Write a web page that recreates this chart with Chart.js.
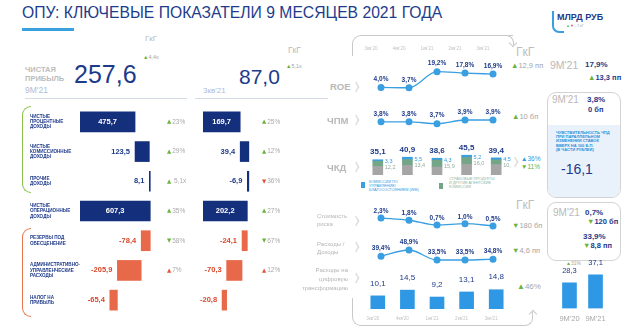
<!DOCTYPE html>
<html><head><meta charset="utf-8">
<script src="https://cdn.jsdelivr.net/npm/chart.js@4.4.1/dist/chart.umd.min.js"></script>
<style>
html,body{margin:0;padding:0;background:#fff;}
body{width:627px;height:334px;position:relative;overflow:hidden;font-family:"Liberation Sans",Arial,sans-serif;}
.a{position:absolute;white-space:nowrap;line-height:1;}
canvas{position:absolute;}
.g{color:#6cb33e}.r{color:#e5533c}
.nv{color:#1e3a8a;font-weight:bold;}
.gr{color:#b9b9b9;}
.chev{position:absolute;width:6px;height:6px;border-top:2.5px solid #dedede;border-right:2.5px solid #dedede;transform:scaleX(.6) rotate(45deg);}
.ln{position:absolute;border:0 solid #c9c9c9;}
</style></head><body>

<div class="a" style="left:22px;top:4.7px;font-size:15.7px;color:#1e3c8c">ОПУ: КЛЮЧЕВЫЕ ПОКАЗАТЕЛИ 9 МЕСЯЦЕВ 2021 ГОДА</div>
<div style="position:absolute;left:22px;top:28px;width:52px;height:2.5px;background:#3aa0e0"></div>

<!-- left header -->
<div class="a gr" style="left:145px;top:35px;font-size:8px">ГкГ</div>
<div class="a" style="left:143px;top:54.5px;font-size:5.5px;color:#a5a5a5"><span class="g">▲</span>4,4x</div>
<div class="a" style="left:25px;top:64.5px;font-size:7.5px;line-height:9px;font-weight:bold;color:#bcbcbc">ЧИСТАЯ<br>ПРИБЫЛЬ</div>
<div class="a" style="left:74px;top:61.5px;font-size:25px;color:#1e3a8a">257,6</div>
<div class="a" style="left:25px;top:86px;font-size:8.5px;color:#aebbd6">9M'21</div>
<div style="position:absolute;left:25px;top:98px;width:162px;height:1px;background:#d5dbe7"></div>
<div class="a gr" style="left:288px;top:46px;font-size:8.5px">ГкГ</div>
<div class="a" style="left:239px;top:65.7px;font-size:21px;color:#1e3a8a">87,0</div>
<div class="a" style="left:286px;top:63.5px;font-size:5.5px;color:#a5a5a5"><span class="g">▲</span>5,1x</div>
<div class="a" style="left:203px;top:86.5px;font-size:8px;color:#aebbd6">3кв'21</div>
<div style="position:absolute;left:195px;top:98px;width:133px;height:1px;background:#d5dbe7"></div>

<div style="position:absolute;left:22px;top:106px;width:8px;height:85px;border:1.5px solid #8cbf4a;border-right:none;border-radius:9px 0 0 9px;"></div>
<div style="position:absolute;left:22px;top:228px;width:8px;height:87px;border:1.5px solid #e8764f;border-right:none;border-radius:9px 0 0 9px;"></div>

<canvas id="c1" width="171" height="208" style="left:30px;top:107px"></canvas>
<canvas id="c2" width="100" height="208" style="left:195px;top:107px"></canvas>

<!-- right section -->
<div class="ln" style="left:352px;top:35px;width:160px;height:20px;border-top-width:1px;border-left-width:1px;border-top-left-radius:9px"></div>
<div class="ln" style="left:502px;top:35px;width:11px;height:9px;border-top-width:1px;border-right-width:1px;border-top-right-radius:8px"></div>
<div class="ln" style="left:510px;top:40px;width:5px;height:5px;border-right-width:1px;border-bottom-width:1px;transform:rotate(45deg)"></div>
<div class="ln" style="left:352px;top:298px;width:170px;height:27px;border-left-width:1px;border-bottom-width:1px;border-bottom-left-radius:9px"></div>
<div class="ln" style="left:520px;top:312px;width:12px;height:13px;border-right-width:1px;border-bottom-width:1px;border-bottom-right-radius:8px"></div>
<div class="ln" style="left:530px;top:311px;width:5px;height:5px;border-left-width:1px;border-top-width:1px;transform:rotate(45deg)"></div>

<div class="a" style="left:330px;top:82px;font-size:9.5px;font-weight:bold;color:#b8b8b8">ROE</div>
<div class="a" style="left:327px;top:115.5px;font-size:9.5px;font-weight:bold;color:#b8b8b8">ЧПМ</div>
<div class="a" style="left:327px;top:163px;font-size:9.5px;font-weight:bold;color:#b8b8b8">ЧКД</div>
<div class="a" style="left:317px;top:212px;font-size:6px;line-height:8px;color:#b5b5b5">Стоимость<br>риска</div>
<div class="a" style="left:317px;top:240px;font-size:6px;line-height:8px;color:#b5b5b5">Расходы /<br>Доходы</div>
<div class="a" style="left:290px;top:265.5px;width:58px;text-align:right;font-size:6px;line-height:9px;color:#b5b5b5">Расходы на<br>цифровую<br>трансформацию</div>

<div class="chev" style="left:352px;top:83px"></div>
<div class="chev" style="left:352px;top:116px"></div>
<div class="chev" style="left:352px;top:163px"></div>
<div class="chev" style="left:352px;top:217px"></div>
<div class="chev" style="left:352px;top:243px"></div>
<div class="chev" style="left:352px;top:274px"></div>
<div class="chev" style="left:511px;top:158px"></div>

<div class="a" style="left:516px;top:46px;font-size:12px;color:#bdbdbd">ГкГ</div>
<div class="a" style="left:511px;top:61.5px;font-size:7.5px;color:#a5a5a5"><span class="g">▲</span>12,9 пп</div>
<div class="a" style="left:512px;top:112.5px;font-size:7.5px;color:#a5a5a5"><span class="g">▲</span>10 бп</div>
<div class="a" style="left:521px;top:156px;font-size:6.5px;color:#2f9be0">▲36%</div>
<div class="a" style="left:521px;top:163.5px;font-size:6.5px;color:#6cb33e">▼11%</div>
<div class="a" style="left:516px;top:199px;font-size:12px;color:#bdbdbd">ГкГ</div>
<div class="a" style="left:512px;top:221.5px;font-size:7.5px;color:#a5a5a5"><span class="g">▼</span>180 бп</div>
<div class="a" style="left:512px;top:246.5px;font-size:7.5px;color:#a5a5a5"><span class="g">▼</span>4,6 пп</div>
<div class="a" style="left:517px;top:283px;font-size:8px;color:#a5a5a5"><span class="g">▲</span>46%</div>

<div style="position:absolute;left:361px;top:182px;width:4px;height:6px;background:#3a9fe1"></div>
<div class="a" style="left:369px;top:180px;font-size:3.8px;line-height:4.2px;color:#2f9be0">КОМИССИИ ПО<br>УПРАВЛЕНИЮ<br>БЛАГОСОСТОЯНИЕМ (WM)</div>
<div style="position:absolute;left:439px;top:183px;width:4px;height:6px;background:#73a586"></div>
<div class="a" style="left:449px;top:177px;font-size:3.8px;line-height:4.2px;color:#8fb39c">СТРАХОВЫЕ ПРОДУКТЫ<br>И ДРУГИЕ АГЕНТСКИЕ<br>КОМИССИИ</div>

<canvas id="roe" width="148" height="50" style="left:363px;top:46px"></canvas>
<canvas id="nim" width="148" height="30" style="left:363px;top:105px"></canvas>
<canvas id="fee" width="148" height="35" style="left:363px;top:140px"></canvas>
<canvas id="cor" width="148" height="30" style="left:363px;top:205px"></canvas>
<canvas id="cir" width="148" height="32" style="left:363px;top:236px"></canvas>
<canvas id="dig" width="148" height="53" style="left:363px;top:268px"></canvas>

<!-- right panel -->
<div style="position:absolute;left:552px;top:11px;width:10px;height:20px;border-left:2px solid #3a9fe1;border-bottom:2px solid #3a9fe1;border-bottom-left-radius:7px"></div>
<div class="a nv" style="left:557px;top:12.5px;font-size:9px">МЛРД РУБ</div>
<div class="a" style="left:566px;top:24px;font-size:4px;color:#a5a5a5"><span class="g">▲</span><span class="r">▼</span> - ГкГ</div>

<div class="a gr" style="left:550px;top:60px;font-size:10.5px">9M'21</div>
<div class="a nv" style="left:585px;top:61px;font-size:8px">17,9%</div>
<div class="a nv" style="left:588px;top:73.5px;font-size:7.5px"><span class="g">▲</span>13,3 пп</div>

<div style="position:absolute;left:547px;top:92px;width:72px;height:104px;border:1.5px solid #d3d3d3;border-radius:9px;overflow:hidden">
  <div style="position:absolute;left:0;right:0;top:32px;bottom:0;background:#e9f2fb"></div>
</div>
<div class="a gr" style="left:552px;top:95px;font-size:10px">9M'21</div>
<div class="a nv" style="left:587px;top:96px;font-size:8px">3,8%</div>
<div class="a nv" style="left:588px;top:106px;font-size:7.5px">0 бп</div>
<div class="a" style="left:556px;top:131px;font-size:4px;line-height:4.2px;font-weight:bold;color:#2a8fd8">ЧУВСТВИТЕЛЬНОСТЬ ЧПД<br>ПРИ ПАРАЛЛЕЛЬНОМ<br>ИЗМЕНЕНИИ СТАВОК<br>ВВЕРХ НА 100 Б.П.<br>(В ЧАСТИ РУБЛЕЙ)</div>
<div class="a" style="left:561px;top:161.5px;font-size:14px;color:#1e3a8a">-16,1</div>

<div style="position:absolute;left:547px;top:202px;width:72px;height:57px;border:1.5px solid #d3d3d3;border-radius:9px"></div>
<div class="a gr" style="left:553px;top:208px;font-size:10px">9M'21</div>
<div class="a nv" style="left:585px;top:209px;font-size:8px">0,7%</div>
<div class="a nv" style="left:587px;top:218px;font-size:7.5px"><span class="g">▼</span>120 бп</div>
<div class="a nv" style="left:583px;top:233px;font-size:8px">33,9%</div>
<div class="a nv" style="left:583px;top:241.5px;font-size:7.5px"><span class="g">▼</span>8,8 пп</div>
<div class="a" style="left:566px;top:261px;font-size:5px;color:#a5a5a5"><span class="g">▲</span>31%</div>

<canvas id="ytd" width="57" height="69" style="left:554px;top:255px"></canvas>

<script>
// ---------- data ----------
const rowLabels = [["ЧИСТЫЕ","ПРОЦЕНТНЫЕ","ДОХОДЫ"],["ЧИСТЫЕ","КОМИССИОННЫЕ","ДОХОДЫ"],["ПРОЧИЕ","ДОХОДЫ"],["ЧИСТЫЕ","ОПЕРАЦИОННЫЕ","ДОХОДЫ"],["РЕЗЕРВЫ ПОД","ОБЕСЦЕНЕНИЕ"],["АДМИНИСТРАТИВНО-","УПРАВЛЕНЧЕСКИЕ","РАСХОДЫ"],["НАЛОГ НА","ПРИБЫЛЬ"]];
const rowKinds = ["base","inc","inc","total","exp","exp","exp"];
const values9m = [475.7, 123.5, 8.1, 607.3, -78.4, -205.9, -65.4];
const values3q = [169.7, 39.4, -6.9, 202.2, -24.1, -70.3, -20.8];
const change9m = ["▲23%","▲29%","▲ 5,1x","▲35%","▼58%","▲7%",""];
const good9m = [true,true,true,true,true,false,null];
const change3q = ["▲25%","▲12%","▼36%","▲27%","▼67%","▲12%",""];
const good3q = [true,true,false,true,true,false,null];

const quarters = ["3кв'20","4кв'20","1кв'21","2кв'21","3кв'21"];
const roe = [4.0, 3.7, 19.2, 17.8, 16.9];
const nim = [3.8, 3.8, 3.7, 3.9, 3.9];
const feeTotal = [35.1, 40.9, 38.6, 45.5, 39.4];
const feeWM = [3.3, 5.5, 4.3, 5.2, 4.5];
const feeIns = [12.2, 13.4, 15.9, 16.0, 10.9];
const feeOther = [19.6, 22.0, 18.4, 24.3, 24.0];
const costRisk = [2.3, 1.8, 0.7, 1.0, 0.5];
const cir = [39.4, 48.9, 33.5, 33.5, 34.8];
const digital = [10.1, 14.5, 9.2, 13.1, 14.8];
const ytdLabels = ["9M'20","9M'21"];
const digitalYtd = [28.3, 37.1];

// ---------- styles ----------
const NAVY = '#1e3a8a', BLUE = '#3a9fe1', BARBLUE = '#2f98e4', GREEN = '#6cb33e', RED = '#e5533c';
const ORANGE = '#e8684a', REDTXT = '#d9472b', BARNAVY = '#142f7c';
const FF = '"Liberation Sans", Arial, sans-serif';
Chart.defaults.font.family = FF;
Chart.defaults.animation = false;
const fmt = v => v.toFixed(1).replace('.', ',');
const noPlug = {legend:{display:false}, tooltip:{enabled:false}};

function waterfall(vals) {
  let run = 0;
  return vals.map((v, i) => {
    if (rowKinds[i] === 'total' || rowKinds[i] === 'base') { run = v; return [0, v]; }
    const s = run; run += v; return [s, run];
  });
}

function wfPlugin(vals, chg, good, dx) {
  return {id:'wf', afterDatasetsDraw(chart) {
    const ctx = chart.ctx, meta = chart.getDatasetMeta(0), ca = chart.chartArea;
    ctx.save(); ctx.textBaseline = 'middle';
    meta.data.forEach((bar, i) => {
      const left = Math.min(bar.x, bar.base), right = Math.max(bar.x, bar.base);
      ctx.font = 'bold 7.5px ' + FF;
      const k = rowKinds[i];
      if (k === 'total' || k === 'base') {
        ctx.fillStyle = '#fff'; ctx.textAlign = 'center'; ctx.fillText(fmt(vals[i]), (left + right) / 2, bar.y);
      } else {
        ctx.fillStyle = k === 'exp' ? REDTXT : NAVY; ctx.textAlign = 'right'; ctx.fillText(fmt(vals[i]), left - 5, bar.y);
      }
      if (chg[i]) {
        const x0 = ca.right + dx;
        ctx.textAlign = 'left';
        ctx.font = '5.5px "DejaVu Sans"'; ctx.fillStyle = good[i] ? GREEN : RED;
        const t = chg[i].charAt(0); ctx.fillText(t, x0, bar.y);
        const w = ctx.measureText(t).width;
        ctx.font = '6.5px ' + FF; ctx.fillStyle = '#aaaaaa';
        ctx.fillText(chg[i].slice(1), x0 + w + 1, bar.y);
      }
    });
    ctx.restore();
  }};
}

function wfChart(id, vals, max, padLeft, padRight, showLabels, chg, good, dx) {
  return new Chart(document.getElementById(id), {
    type: 'bar',
    data: {labels: rowLabels, datasets: [{data: waterfall(vals), barThickness: 20, borderWidth: 0,
      backgroundColor: rowKinds.map(k => k === 'exp' ? ORANGE : BARNAVY)}]},
    options: {indexAxis: 'y', responsive: false, animation: false,
      layout: {padding: {left: padLeft, right: padRight, top: 0, bottom: 0}},
      plugins: noPlug,
      scales: {
        x: {display: false, min: 0, max: max},
        y: showLabels ? {grid: {display: false, drawTicks: false}, border: {display: false},
              afterFit: s => { s.width = 50; s.paddingTop = 0; s.paddingBottom = 0; },
              ticks: {autoSkip: false, crossAlign: 'far', padding: 0, color: NAVY, font: {size: 4.6, weight: 'bold', lineHeight: 1.15}}}
          : {display: false}
      }},
    plugins: [wfPlugin(vals, chg, good, dx)]
  });
}
wfChart('c1', values9m, 700, 0, 40, true, change9m, good9m, 6);
wfChart('c2', values3q, 260, 8, 35, false, change3q, good3q, 2);

// point labels
const pointLabels = (suffix, dy) => ({id: 'pl', afterDatasetsDraw(chart) {
  const ctx = chart.ctx, ds = chart.data.datasets[0], meta = chart.getDatasetMeta(0);
  ctx.save(); ctx.font = 'bold 6.5px ' + FF; ctx.fillStyle = NAVY; ctx.textAlign = 'center'; ctx.textBaseline = 'middle';
  meta.data.forEach((p, i) => ctx.fillText(fmt(ds.data[i]) + suffix, p.x, p.y - dy));
  ctx.restore();
}});

const hiddenX = {display: false, offset: true};
function lineChart(id, data, min, max, xOpts, dy) {
  return new Chart(document.getElementById(id), {
    type: 'line',
    data: {labels: quarters, datasets: [{data: data, borderColor: BLUE, backgroundColor: BLUE, pointBackgroundColor: BLUE,
      pointBorderWidth: 0, pointRadius: 3.5, borderWidth: 1.3, cubicInterpolationMode: 'monotone', clip: false}]},
    options: {responsive: false, animation: false, layout: {padding: 0}, plugins: noPlug,
      scales: {x: xOpts || hiddenX, y: {display: false, min: min, max: max}}},
    plugins: [pointLabels('%', dy)]
  });
}
const topAxis = {position: 'top', offset: true, grid: {display: false, drawTicks: false}, border: {display: false},
  afterFit: s => { s.height = 16.5; },
  ticks: {color: '#c4c4c4', font: {size: 4.6}, padding: 11, labelOffset: -10, maxRotation: 0, autoSkip: false}};
lineChart('roe', roe, -0.4, 28, topAxis, 8);
lineChart('nim', nim, 3.3, 4.5, null, 8);
lineChart('cor', costRisk, -0.68, 4.4, null, 7);
lineChart('cir', cir, 27.4, 64.2, null, 7.5);

// fee stacked bars
new Chart(document.getElementById('fee'), {
  type: 'bar',
  data: {labels: quarters, datasets: [
    {data: feeOther, backgroundColor: '#a5a5a5', barThickness: 10},
    {data: feeIns, backgroundColor: '#73a586', barThickness: 10},
    {data: feeWM, backgroundColor: BLUE, barThickness: 10}]},
  options: {responsive: false, animation: false, plugins: noPlug,
    scales: {x: {display: false, stacked: true}, y: {display: false, stacked: true, min: 0, max: 80.5}}},
  plugins: [{id: 'fl', afterDatasetsDraw(chart) {
    const ctx = chart.ctx, meta = chart.getDatasetMeta(2);
    ctx.save(); ctx.textBaseline = 'middle';
    meta.data.forEach((b, i) => {
      const top = b.y;
      ctx.font = 'bold 8px ' + FF; ctx.fillStyle = NAVY; ctx.textAlign = 'center';
      ctx.fillText(fmt(feeTotal[i]), b.x, top - 7.5);
      ctx.font = '5.5px ' + FF; ctx.textAlign = 'left';
      ctx.fillStyle = '#2f9be0'; ctx.fillText(fmt(feeWM[i]), b.x + b.width / 2 + 2, top + 2);
      ctx.fillStyle = '#93ad9c'; ctx.fillText(fmt(feeIns[i]), b.x + b.width / 2 + 2, top + 8);
    });
    ctx.restore();
  }}]
});

// bar label plugin
const barLabels = (font, dy) => ({id: 'bl', afterDatasetsDraw(chart) {
  const ctx = chart.ctx, ds = chart.data.datasets[0], meta = chart.getDatasetMeta(0);
  ctx.save(); ctx.font = font; ctx.fillStyle = NAVY; ctx.textAlign = 'center'; ctx.textBaseline = 'middle';
  meta.data.forEach((b, i) => ctx.fillText(fmt(ds.data[i]), b.x, b.y - dy));
  ctx.restore();
}});

new Chart(document.getElementById('dig'), {
  type: 'bar',
  data: {labels: quarters, datasets: [{data: digital, backgroundColor: BARBLUE, barThickness: 14}]},
  options: {responsive: false, animation: false, plugins: noPlug,
    scales: {x: {position: 'bottom', grid: {display: false, drawTicks: false}, border: {display: false},
      afterFit: s => { s.height = 12; },
      ticks: {color: '#c4c4c4', font: {size: 4.6}, padding: 6.5, labelOffset: -5, maxRotation: 0, autoSkip: false}},
      y: {display: false, min: 0, max: 31.5}}},
  plugins: [barLabels('8px ' + FF, 12.5)]
});

new Chart(document.getElementById('ytd'), {
  type: 'bar',
  data: {labels: ytdLabels, datasets: [{data: digitalYtd, backgroundColor: BARBLUE, barThickness: 14}]},
  options: {responsive: false, animation: false, plugins: noPlug,
    scales: {x: {grid: {display: false, drawTicks: false}, border: {display: false},
      afterFit: s => { s.height = 15.5; },
      ticks: {color: '#a8a8a8', font: {size: 7.5}, padding: 6, maxRotation: 0, autoSkip: false}},
      y: {display: false, min: 0, max: 58.8}}},
  plugins: [barLabels('7.5px ' + FF, 12)]
});
</script>
</body></html>
